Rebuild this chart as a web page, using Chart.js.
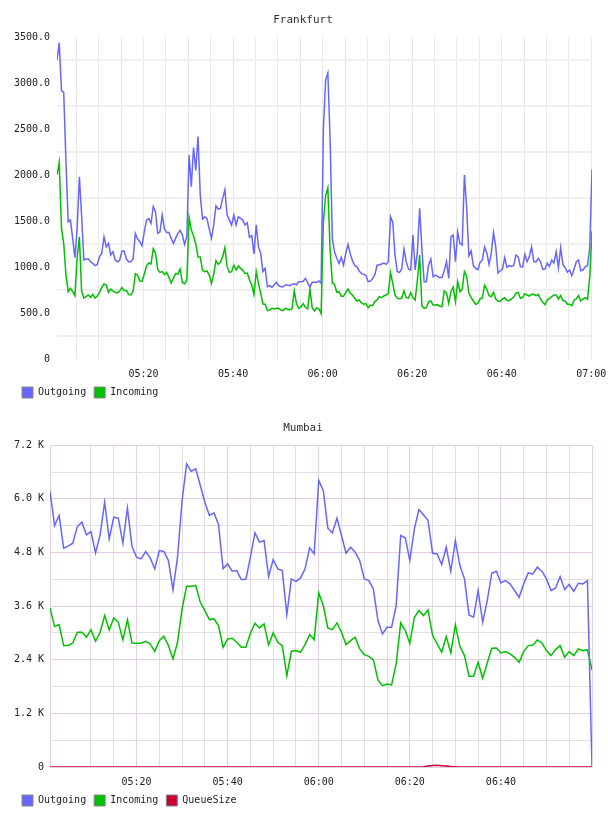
<!DOCTYPE html>
<html lang="en">
<head>
  <meta charset="UTF-8">
  <title>Frankfurt / Mumbai traffic</title>
  <script src="https://cdn.jsdelivr.net/npm/chart.js"></script>
  <style>
    body {
      margin: 0;
      padding: 0;
      background: #fff;
    }
    .chart-box {
      position: relative;
      width: 608px;
      height: 408px;
    }
  </style>
</head>
<body>
  <div class="chart-box"><canvas id="frankfurtChart"></canvas></div>
  <div class="chart-box"><canvas id="mumbaiChart"></canvas></div>
  <script>
    // Frankfurt: one sample every 30 s starting 05:00:40 (minutes since midnight)
    const frankfurtStart = 300 + 40 / 60;
    const frankfurtStep = 0.5;
    const frankfurtOutgoing = [
      3250, 3440, 2920, 2900, 2145, 1493, 1510, 1312, 1102, 1420,
      1982, 1555, 1077, 1087, 1087, 1058, 1040, 1015, 1029, 1113,
      1149, 1330, 1221, 1258, 1131, 1167, 1077, 1058, 1073, 1174,
      1174, 1087, 1058, 1058, 1087, 1366, 1305, 1276, 1232, 1384,
      1511, 1529, 1475, 1656, 1602, 1366, 1384, 1566, 1413, 1377,
      1377, 1312, 1258, 1312, 1366, 1399, 1348, 1247, 1330, 2218,
      1874, 2300, 2050, 2420, 1783, 1522, 1547, 1529, 1413, 1312,
      1457, 1667, 1631, 1638, 1747, 1840, 1566, 1511, 1457, 1566,
      1457, 1547,
      1529, 1511, 1457, 1482, 1323, 1341, 1142, 1460, 1221, 1149,
      950, 986, 787, 797, 779, 805, 834, 797, 787, 787,
      805, 805, 797, 812, 819, 808, 841, 841, 845, 877,
      827, 783, 834, 834, 834, 848, 823, 2500, 3033, 3110,
      2399, 1312, 1160, 1095, 1040, 1106, 1022, 1149, 1247, 1145,
      1069, 1015, 1004, 957, 931, 921, 910, 841, 848, 874,
      917, 1022, 1022, 1033, 1044, 1029, 1058, 1547, 1486, 1131,
      950, 943, 979, 1196, 1058, 979, 968, 1348, 968, 1167,
      1640,
      1203, 841, 841, 1022, 1087, 895, 913, 899, 884, 888,
      960, 1060, 877, 1330, 1348, 1058, 1380, 1258, 1239, 2000,
      1650, 1124, 1174, 1015, 986, 971, 1051, 1077, 1218, 1156,
      1029, 1149, 1377, 1221, 935, 960, 979, 1102, 997, 1015,
      1008, 1015, 1131, 1113, 1004, 1000, 1138, 1058, 1113, 1221,
      1058, 1055, 1095, 1058, 975, 979, 1044, 1008, 1077, 1044,
      1167, 993, 1210, 1029, 993, 943, 968, 906, 975, 1058,
      1077, 960, 968, 1004, 1015, 1210, 2060
    ];
    const frankfurtIncoming = [
      2000, 2140, 1421, 1258, 913, 732, 769, 732, 689, 1100,
      1330, 739, 663, 678, 696, 671, 703, 663, 685, 725,
      779, 816, 805, 725, 761, 739, 725, 718, 739, 776,
      743, 747, 700, 696, 736, 928, 913, 848, 845, 924,
      1011, 1044, 1033, 1200, 1150, 975, 942, 950, 917, 942,
      888, 827, 877, 931, 921, 979, 834, 816, 855, 1540,
      1403, 1337, 1250, 1109, 1109, 964, 950, 957, 913, 823,
      921, 1069, 1029, 1051, 1113, 1210, 1004, 942, 950, 1022,
      968, 1011,
      986, 964, 931, 935, 859, 805, 703, 950, 823, 714,
      598, 595, 526, 533, 551, 544, 551, 551, 533, 526,
      551, 544, 533, 551, 740, 600, 551, 569, 602, 562,
      544, 760, 558, 522, 558, 544, 493, 1493, 1776, 1860,
      1185, 823, 812, 725, 732, 682, 682, 725, 761, 714,
      696, 660, 631, 642, 609, 595, 602, 558, 587, 580,
      624, 642, 678, 667, 685, 696, 714, 940, 823, 696,
      660, 656, 660, 743, 667, 663, 721, 667, 642, 859,
      1130,
      580, 551, 558, 624, 631, 587, 587, 591, 573, 569,
      740, 720, 605, 732, 780, 624, 840, 732, 758, 950,
      900, 714, 671, 631, 595, 605, 653, 663, 800, 760,
      689, 678, 725, 653, 631, 627, 653, 667, 638, 634,
      653, 674, 714, 725, 660, 671, 710, 696, 685, 703,
      703, 689, 703, 653, 616, 591, 642, 660, 678, 696,
      696, 653, 689, 634, 631, 595, 595, 580, 642, 653,
      689, 631, 653, 667, 649, 895, 1390
    ];

    // Mumbai: one sample per minute, 05:01 .. 07:00
    const mumbaiStart = 301;
    const mumbaiStep = 1;
    const mumbaiOutgoing = [
      6172, 5403, 5627, 4895, 4940, 5007, 5380, 5477, 5194, 5268,
      4791, 5194, 5925, 5104, 5589, 5567, 5007, 5791, 4940, 4694,
      4656, 4821, 4679, 4433, 4843, 4821, 4619, 3962, 4694, 5963,
      6783, 6619, 6672, 6298, 5925, 5627, 5686, 5425, 4433, 4545,
      4380, 4395, 4194, 4194, 4694, 5239, 5030, 5067, 4261, 4642,
      4433, 4395, 3410, 4209, 4149, 4231, 4433, 4903, 4768, 6410,
      6186, 5343, 5239, 5567, 5179, 4783, 4918, 4806, 4619, 4209,
      4171, 3985, 3276, 2977, 3127, 3127, 3612, 5179, 5127, 4619,
      5328, 5761, 5642, 5515, 4783, 4768, 4530, 4918, 4380, 5067,
      4507, 4209, 3403, 3351, 3948, 3239, 3724, 4336, 4380, 4119,
      4171, 4097, 3948, 3798, 4097, 4343, 4321, 4470, 4380, 4209,
      3948, 4007, 4261, 3970, 4082, 3933, 4112, 4097, 4171, 0
    ];
    const mumbaiIncoming = [
      3559, 3142, 3186, 2716, 2716, 2776, 3015, 3015, 2903, 3074,
      2813, 3015, 3388, 3067, 3336, 3238, 2843, 3291, 2776, 2768,
      2768, 2813, 2753, 2589, 2828, 2925, 2716, 2418, 2791, 3537,
      4045, 4045, 4059, 3686, 3500, 3298, 3313, 3164, 2679, 2865,
      2880, 2791, 2679, 2679, 2992, 3216, 3112, 3201, 2731, 3000,
      2791, 2716, 2044, 2589, 2604, 2567, 2738, 2962, 2850, 3895,
      3612, 3112, 3074, 3224, 3015, 2738, 2828, 2903, 2641, 2515,
      2477, 2395, 1947, 1821, 1858, 1836, 2306, 3224, 3052, 2768,
      3351, 3500, 3388, 3515, 2940, 2753, 2567, 2918, 2552, 3179,
      2694, 2492, 2030, 2030, 2343, 1985, 2328, 2656, 2664, 2552,
      2582, 2530, 2455, 2343, 2582, 2716, 2731, 2843, 2776, 2604,
      2492, 2627, 2716, 2455, 2582, 2492, 2641, 2604, 2619, 2171
    ];
    const mumbaiQueue = [
      0, 0, 0, 0, 0, 0, 0, 0, 0, 0,
      0, 0, 0, 0, 0, 0, 0, 0, 0, 0,
      0, 0, 0, 0, 0, 0, 0, 0, 0, 0,
      0, 0, 0, 0, 0, 0, 0, 0, 0, 0,
      0, 0, 0, 0, 0, 0, 0, 0, 0, 0,
      0, 0, 0, 0, 0, 0, 0, 0, 0, 0,
      0, 0, 0, 0, 0, 0, 0, 0, 0, 0,
      0, 0, 0, 0, 0, 0, 0, 0, 0, 0,
      0, 0, 5, 20, 35, 40, 30, 20, 10, 5,
      0, 0, 0, 0, 0, 0, 0, 0, 0, 0,
      0, 0, 0, 0, 0, 0, 0, 0, 0, 0,
      0, 0, 0, 0, 0, 0, 0, 0, 0, 0
    ];

    const FONT = 'DejaVu Sans Mono';
    const BLUE = 'rgb(102, 102, 255)';
    const GREEN = 'rgb(0, 192, 0)';
    const RED = 'rgb(204, 0, 51)';

    function toPoints(start, step, values) {
      return values.map((v, i) => ({ x: start + i * step, y: v }));
    }

    function hhmm(minutes) {
      const h = Math.floor(minutes / 60);
      const m = Math.round(minutes % 60);
      return String(h).padStart(2, '0') + ':' + String(m).padStart(2, '0');
    }

    function series(label, color, points) {
      return {
        label: label,
        data: points,
        borderColor: color,
        backgroundColor: color,
        borderWidth: 1.5,
        pointRadius: 0,
        tension: 0,
        fill: false,
      };
    }

    // x axis: no side padding for edge labels, and a tighter gap to the legend
    function fitXAxis(scale) {
      scale.paddingLeft = 0;
      scale.paddingRight = 0;
      scale.height -= 10;
    }

    function baseOptions(title, xScale, yScale) {
      return {
        responsive: true,
        maintainAspectRatio: false,
        animation: false,
        events: [],
        layout: { padding: { left: 14, right: 16, top: 0, bottom: 0 } },
        plugins: {
          title: {
            display: true,
            text: title,
            color: '#333',
            font: { family: FONT, size: 11, weight: 'normal' },
            padding: { top: 14, bottom: 10 },
          },
          legend: {
            position: 'bottom',
            align: 'start',
            labels: {
              font: { family: FONT, size: 10 },
              color: '#222',
              boxWidth: 11,
              boxHeight: 11,
              padding: 8,
              generateLabels: (chart) => chart.data.datasets.map((ds, i) => ({
                text: ds.label,
                fillStyle: ds.borderColor,
                strokeStyle: '#888',
                lineWidth: 1,
                hidden: false,
                datasetIndex: i,
                fontColor: '#222',
              })),
            },
          },
          tooltip: { enabled: false },
        },
        scales: { x: xScale, y: yScale },
      };
    }

    // Frankfurt
    new Chart(document.getElementById('frankfurtChart'), {
      type: 'line',
      data: {
        datasets: [
          series('Outgoing', BLUE, toPoints(frankfurtStart, frankfurtStep, frankfurtOutgoing)),
          series('Incoming', GREEN, toPoints(frankfurtStart, frankfurtStep, frankfurtIncoming)),
        ],
      },
      options: baseOptions('Frankfurt',
        {
          type: 'linear',
          min: frankfurtStart,
          max: frankfurtStart + (frankfurtOutgoing.length - 1) * frankfurtStep,
          border: { display: false },
          grid: { color: '#e8e8e8', lineWidth: 1, drawTicks: false },
          afterFit: fitXAxis,
          ticks: {
            stepSize: 5,
            includeBounds: false,
            autoSkip: false,
            maxRotation: 0,
            padding: 9,
            color: '#222',
            font: { family: FONT, size: 10 },
            callback: (v) => (v % 20 === 0 ? hhmm(v) : ''),
          },
        },
        {
          min: 0,
          max: 3500,
          border: { display: false },
          grid: {
            drawTicks: false,
            lineWidth: 2,
            color: (ctx) => (ctx.tick && ctx.tick.value % 500 !== 0 ? '#efefef' : 'rgba(0,0,0,0)'),
          },
          afterFit: (scale) => { scale.width = 43; },
          ticks: {
            stepSize: 250,
            autoSkip: false,
            padding: 7,
            color: '#222',
            font: { family: FONT, size: 10 },
            callback: (v) => (v % 500 !== 0 ? '' : v === 0 ? '0' : v.toFixed(1)),
          },
        }),
    });

    // Mumbai
    const MAJOR = '#e6cde6';
    const MINOR = '#e0e0e0';
    new Chart(document.getElementById('mumbaiChart'), {
      type: 'line',
      data: {
        datasets: [
          series('Outgoing', BLUE, toPoints(mumbaiStart, mumbaiStep, mumbaiOutgoing)),
          series('Incoming', GREEN, toPoints(mumbaiStart, mumbaiStep, mumbaiIncoming)),
          series('QueueSize', RED, toPoints(mumbaiStart, mumbaiStep, mumbaiQueue)),
        ],
      },
      options: baseOptions('Mumbai',
        {
          type: 'linear',
          min: mumbaiStart,
          max: mumbaiStart + (mumbaiOutgoing.length - 1) * mumbaiStep,
          border: { display: false },
          grid: {
            drawTicks: false,
            lineWidth: 1,
            color: (ctx) => {
              const v = ctx.tick ? ctx.tick.value : 0;
              return v % 20 === 0 || v === mumbaiStart ? MAJOR : MINOR;
            },
          },
          afterFit: fitXAxis,
          ticks: {
            stepSize: 5,
            autoSkip: false,
            maxRotation: 0,
            padding: 9,
            color: '#222',
            font: { family: FONT, size: 10 },
            callback: (v) => (v % 20 === 0 && v < 420 ? hhmm(v) : ''),
          },
        },
        {
          min: 0,
          max: 7200,
          border: { display: false },
          grid: {
            drawTicks: false,
            lineWidth: 1,
            color: (ctx) => (ctx.tick && ctx.tick.value % 1200 === 0 ? MAJOR : MINOR),
          },
          afterFit: (scale) => { scale.width = 36; },
          ticks: {
            stepSize: 600,
            autoSkip: false,
            padding: 6,
            color: '#222',
            font: { family: FONT, size: 10 },
            callback: (v) => (v % 1200 !== 0 ? '' : v === 0 ? '0' : (v / 1000).toFixed(1) + ' K'),
          },
        }),
    });
  </script>
</body>
</html>
